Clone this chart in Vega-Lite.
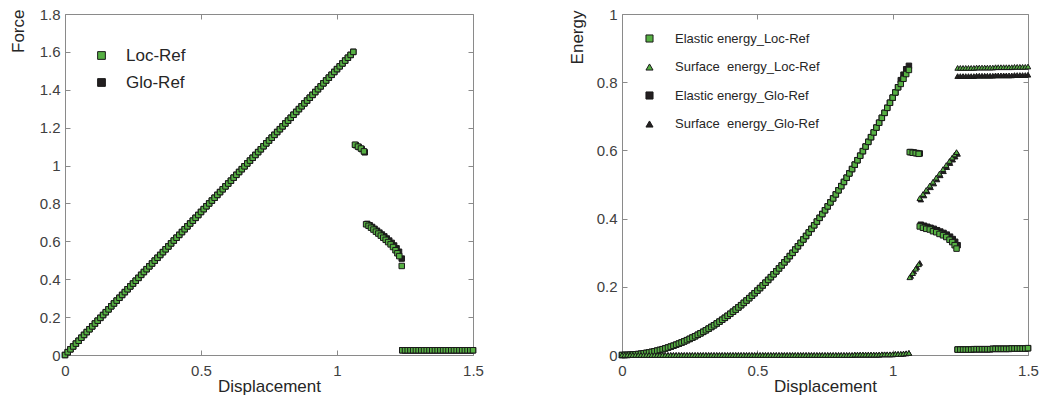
{
  "$schema": "https://vega.github.io/schema/vega-lite/v6.json",
  "background": "white",
  "padding": {"left": 9, "top": 7, "right": 2, "bottom": 2},
  "bounds": "flush",
  "spacing": 149,
  "config": {
    "font": "Liberation Sans",
    "view": {"stroke": null},
    "axis": {
      "grid": false,
      "domainColor": "#8a8a8a",
      "tickColor": "#8a8a8a",
      "tickSize": -5,
      "labelFlush": false,
      "labelColor": "#404040",
      "labelFontSize": 15,
      "labelPadding": 13,
      "titleFontSize": 17,
      "titleFontWeight": "normal",
      "titleColor": "#262626"
    }
  },
  "datasets": {
    "all": [
      {"d":0.00,"F":0.000,"Fg":0.000,"e":0.0000,"eg":0.0000,"s":0,"sg":0},
      {"d":0.01,"F":0.015,"Fg":0.015,"e":0.0001,"eg":0.0001,"s":0,"sg":0},
      {"d":0.02,"F":0.030,"Fg":0.030,"e":0.0003,"eg":0.0003,"s":0,"sg":0},
      {"d":0.03,"F":0.045,"Fg":0.045,"e":0.0007,"eg":0.0007,"s":0,"sg":0},
      {"d":0.04,"F":0.060,"Fg":0.060,"e":0.0012,"eg":0.0012,"s":0,"sg":0},
      {"d":0.05,"F":0.075,"Fg":0.075,"e":0.0019,"eg":0.0019,"s":0,"sg":0},
      {"d":0.06,"F":0.091,"Fg":0.091,"e":0.0027,"eg":0.0027,"s":0,"sg":0},
      {"d":0.07,"F":0.106,"Fg":0.106,"e":0.0037,"eg":0.0037,"s":0,"sg":0},
      {"d":0.08,"F":0.121,"Fg":0.121,"e":0.0048,"eg":0.0048,"s":0,"sg":0},
      {"d":0.09,"F":0.136,"Fg":0.136,"e":0.0061,"eg":0.0061,"s":0,"sg":0},
      {"d":0.10,"F":0.151,"Fg":0.151,"e":0.0075,"eg":0.0075,"s":0,"sg":0},
      {"d":0.11,"F":0.166,"Fg":0.166,"e":0.0091,"eg":0.0091,"s":0,"sg":0},
      {"d":0.12,"F":0.181,"Fg":0.181,"e":0.0109,"eg":0.0109,"s":0,"sg":0},
      {"d":0.13,"F":0.196,"Fg":0.196,"e":0.0128,"eg":0.0128,"s":0,"sg":0},
      {"d":0.14,"F":0.211,"Fg":0.211,"e":0.0148,"eg":0.0148,"s":0,"sg":0},
      {"d":0.15,"F":0.226,"Fg":0.226,"e":0.0170,"eg":0.0170,"s":0,"sg":0},
      {"d":0.16,"F":0.241,"Fg":0.241,"e":0.0193,"eg":0.0193,"s":0,"sg":0},
      {"d":0.17,"F":0.257,"Fg":0.257,"e":0.0218,"eg":0.0218,"s":0,"sg":0},
      {"d":0.18,"F":0.272,"Fg":0.272,"e":0.0245,"eg":0.0245,"s":0,"sg":0},
      {"d":0.19,"F":0.287,"Fg":0.287,"e":0.0272,"eg":0.0272,"s":0,"sg":0},
      {"d":0.20,"F":0.302,"Fg":0.302,"e":0.0302,"eg":0.0302,"s":0,"sg":0},
      {"d":0.21,"F":0.317,"Fg":0.317,"e":0.0333,"eg":0.0333,"s":0,"sg":0},
      {"d":0.22,"F":0.332,"Fg":0.332,"e":0.0365,"eg":0.0365,"s":0,"sg":0},
      {"d":0.23,"F":0.347,"Fg":0.347,"e":0.0399,"eg":0.0399,"s":0,"sg":0},
      {"d":0.24,"F":0.362,"Fg":0.362,"e":0.0435,"eg":0.0435,"s":0,"sg":0},
      {"d":0.25,"F":0.377,"Fg":0.377,"e":0.0472,"eg":0.0472,"s":0,"sg":0},
      {"d":0.26,"F":0.392,"Fg":0.392,"e":0.0510,"eg":0.0510,"s":0,"sg":0},
      {"d":0.27,"F":0.407,"Fg":0.407,"e":0.0550,"eg":0.0550,"s":0,"sg":0},
      {"d":0.28,"F":0.423,"Fg":0.423,"e":0.0592,"eg":0.0592,"s":0,"sg":0},
      {"d":0.29,"F":0.438,"Fg":0.438,"e":0.0635,"eg":0.0635,"s":0,"sg":0},
      {"d":0.30,"F":0.453,"Fg":0.453,"e":0.0679,"eg":0.0679,"s":0,"sg":0},
      {"d":0.31,"F":0.468,"Fg":0.468,"e":0.0725,"eg":0.0725,"s":0,"sg":0},
      {"d":0.32,"F":0.483,"Fg":0.483,"e":0.0773,"eg":0.0773,"s":0,"sg":0},
      {"d":0.33,"F":0.498,"Fg":0.498,"e":0.0822,"eg":0.0822,"s":0,"sg":0},
      {"d":0.34,"F":0.513,"Fg":0.513,"e":0.0872,"eg":0.0872,"s":0,"sg":0},
      {"d":0.35,"F":0.528,"Fg":0.528,"e":0.0924,"eg":0.0924,"s":0,"sg":0},
      {"d":0.36,"F":0.543,"Fg":0.543,"e":0.0978,"eg":0.0978,"s":0,"sg":0},
      {"d":0.37,"F":0.558,"Fg":0.558,"e":0.1033,"eg":0.1033,"s":0,"sg":0},
      {"d":0.38,"F":0.573,"Fg":0.573,"e":0.1090,"eg":0.1090,"s":0,"sg":0},
      {"d":0.39,"F":0.589,"Fg":0.589,"e":0.1148,"eg":0.1148,"s":0,"sg":0},
      {"d":0.40,"F":0.604,"Fg":0.604,"e":0.1208,"eg":0.1208,"s":0,"sg":0},
      {"d":0.41,"F":0.619,"Fg":0.619,"e":0.1269,"eg":0.1269,"s":0,"sg":0},
      {"d":0.42,"F":0.634,"Fg":0.634,"e":0.1331,"eg":0.1331,"s":0,"sg":0},
      {"d":0.43,"F":0.649,"Fg":0.649,"e":0.1395,"eg":0.1395,"s":0,"sg":0},
      {"d":0.44,"F":0.664,"Fg":0.664,"e":0.1461,"eg":0.1461,"s":0,"sg":0},
      {"d":0.45,"F":0.679,"Fg":0.679,"e":0.1528,"eg":0.1528,"s":0,"sg":0},
      {"d":0.46,"F":0.694,"Fg":0.694,"e":0.1597,"eg":0.1597,"s":0,"sg":0},
      {"d":0.47,"F":0.709,"Fg":0.709,"e":0.1667,"eg":0.1667,"s":0,"sg":0},
      {"d":0.48,"F":0.724,"Fg":0.724,"e":0.1739,"eg":0.1739,"s":0,"sg":0},
      {"d":0.49,"F":0.739,"Fg":0.739,"e":0.1812,"eg":0.1812,"s":0,"sg":0},
      {"d":0.50,"F":0.755,"Fg":0.755,"e":0.1887,"eg":0.1887,"s":0,"sg":0},
      {"d":0.51,"F":0.770,"Fg":0.770,"e":0.1963,"eg":0.1963,"s":0,"sg":0},
      {"d":0.52,"F":0.785,"Fg":0.785,"e":0.2041,"eg":0.2041,"s":0,"sg":0},
      {"d":0.53,"F":0.800,"Fg":0.800,"e":0.2120,"eg":0.2120,"s":0,"sg":0},
      {"d":0.54,"F":0.815,"Fg":0.815,"e":0.2201,"eg":0.2201,"s":0,"sg":0},
      {"d":0.55,"F":0.830,"Fg":0.830,"e":0.2283,"eg":0.2283,"s":0,"sg":0},
      {"d":0.56,"F":0.845,"Fg":0.845,"e":0.2367,"eg":0.2367,"s":0,"sg":0},
      {"d":0.57,"F":0.860,"Fg":0.860,"e":0.2452,"eg":0.2452,"s":0,"sg":0},
      {"d":0.58,"F":0.875,"Fg":0.875,"e":0.2539,"eg":0.2539,"s":0,"sg":0},
      {"d":0.59,"F":0.890,"Fg":0.890,"e":0.2627,"eg":0.2627,"s":0,"sg":0},
      {"d":0.60,"F":0.905,"Fg":0.905,"e":0.2717,"eg":0.2717,"s":0,"sg":0},
      {"d":0.61,"F":0.920,"Fg":0.920,"e":0.2808,"eg":0.2808,"s":0,"sg":0},
      {"d":0.62,"F":0.936,"Fg":0.936,"e":0.2901,"eg":0.2901,"s":0,"sg":0},
      {"d":0.63,"F":0.951,"Fg":0.951,"e":0.2995,"eg":0.2995,"s":0,"sg":0},
      {"d":0.64,"F":0.966,"Fg":0.966,"e":0.3091,"eg":0.3091,"s":0,"sg":0},
      {"d":0.65,"F":0.981,"Fg":0.981,"e":0.3189,"eg":0.3189,"s":0,"sg":0},
      {"d":0.66,"F":0.996,"Fg":0.996,"e":0.3287,"eg":0.3287,"s":0,"sg":0},
      {"d":0.67,"F":1.011,"Fg":1.011,"e":0.3388,"eg":0.3388,"s":0,"sg":0},
      {"d":0.68,"F":1.026,"Fg":1.026,"e":0.3490,"eg":0.3490,"s":0,"sg":0},
      {"d":0.69,"F":1.041,"Fg":1.041,"e":0.3593,"eg":0.3593,"s":0,"sg":0},
      {"d":0.70,"F":1.056,"Fg":1.056,"e":0.3698,"eg":0.3698,"s":0,"sg":0},
      {"d":0.71,"F":1.071,"Fg":1.071,"e":0.3804,"eg":0.3804,"s":0,"sg":0},
      {"d":0.72,"F":1.086,"Fg":1.086,"e":0.3912,"eg":0.3912,"s":0,"sg":0},
      {"d":0.73,"F":1.102,"Fg":1.102,"e":0.4022,"eg":0.4022,"s":0,"sg":0},
      {"d":0.74,"F":1.117,"Fg":1.117,"e":0.4133,"eg":0.4133,"s":0,"sg":0},
      {"d":0.75,"F":1.132,"Fg":1.132,"e":0.4245,"eg":0.4245,"s":0,"sg":0},
      {"d":0.76,"F":1.147,"Fg":1.147,"e":0.4359,"eg":0.4359,"s":0,"sg":0},
      {"d":0.77,"F":1.162,"Fg":1.162,"e":0.4475,"eg":0.4475,"s":0,"sg":0},
      {"d":0.78,"F":1.177,"Fg":1.177,"e":0.4592,"eg":0.4592,"s":0,"sg":0},
      {"d":0.79,"F":1.192,"Fg":1.192,"e":0.4710,"eg":0.4710,"s":0,"sg":0},
      {"d":0.80,"F":1.207,"Fg":1.207,"e":0.4830,"eg":0.4830,"s":0,"sg":0},
      {"d":0.81,"F":1.222,"Fg":1.222,"e":0.4952,"eg":0.4952,"s":0,"sg":0},
      {"d":0.82,"F":1.237,"Fg":1.237,"e":0.5075,"eg":0.5075,"s":0,"sg":0},
      {"d":0.83,"F":1.252,"Fg":1.252,"e":0.5199,"eg":0.5199,"s":0,"sg":0},
      {"d":0.84,"F":1.268,"Fg":1.268,"e":0.5325,"eg":0.5325,"s":0,"sg":0},
      {"d":0.85,"F":1.283,"Fg":1.283,"e":0.5453,"eg":0.5453,"s":0,"sg":0},
      {"d":0.86,"F":1.298,"Fg":1.298,"e":0.5582,"eg":0.5582,"s":0.001,"sg":0.001},
      {"d":0.87,"F":1.313,"Fg":1.313,"e":0.5712,"eg":0.5712,"s":0.001,"sg":0.001},
      {"d":0.88,"F":1.328,"Fg":1.328,"e":0.5844,"eg":0.5844,"s":0.001,"sg":0.001},
      {"d":0.89,"F":1.343,"Fg":1.343,"e":0.5978,"eg":0.5978,"s":0.001,"sg":0.001},
      {"d":0.90,"F":1.358,"Fg":1.358,"e":0.6113,"eg":0.6113,"s":0.001,"sg":0.001},
      {"d":0.91,"F":1.373,"Fg":1.373,"e":0.6250,"eg":0.6250,"s":0.001,"sg":0.001},
      {"d":0.92,"F":1.388,"Fg":1.388,"e":0.6388,"eg":0.6388,"s":0.001,"sg":0.001},
      {"d":0.93,"F":1.403,"Fg":1.403,"e":0.6527,"eg":0.6527,"s":0.001,"sg":0.001},
      {"d":0.94,"F":1.418,"Fg":1.418,"e":0.6669,"eg":0.6669,"s":0.001,"sg":0.001},
      {"d":0.95,"F":1.434,"Fg":1.434,"e":0.6811,"eg":0.6811,"s":0.001,"sg":0.001},
      {"d":0.96,"F":1.449,"Fg":1.449,"e":0.6955,"eg":0.6955,"s":0.002,"sg":0.002},
      {"d":0.97,"F":1.464,"Fg":1.464,"e":0.7101,"eg":0.7101,"s":0.002,"sg":0.002},
      {"d":0.98,"F":1.479,"Fg":1.479,"e":0.7248,"eg":0.7248,"s":0.002,"sg":0.002},
      {"d":0.99,"F":1.494,"Fg":1.494,"e":0.7397,"eg":0.7397,"s":0.002,"sg":0.002},
      {"d":1.00,"F":1.509,"Fg":1.509,"e":0.7547,"eg":0.7547,"s":0.002,"sg":0.002},
      {"d":1.01,"F":1.524,"Fg":1.524,"e":0.7699,"eg":0.7699,"s":0.003,"sg":0.003},
      {"d":1.02,"F":1.539,"Fg":1.539,"e":0.7852,"eg":0.7852,"s":0.003,"sg":0.003},
      {"d":1.03,"F":1.554,"Fg":1.554,"e":0.795,"eg":0.806,"s":0.003,"sg":0.003},
      {"d":1.04,"F":1.569,"Fg":1.569,"e":0.810,"eg":0.822,"s":0.004,"sg":0.004},
      {"d":1.05,"F":1.584,"Fg":1.584,"e":0.824,"eg":0.838,"s":0.005,"sg":0.005},
      {"d":1.06,"F":1.600,"Fg":1.600,"e":0.836,"eg":0.848,"s":0.006,"sg":0.006},
      {"d":1.066,"F":1.11},
      {"d":1.077,"F":1.10},
      {"d":1.088,"F":1.09},
      {"d":1.099,"F":1.075},
      {"d":1.069,"Fg":1.108},
      {"d":1.080,"Fg":1.098},
      {"d":1.091,"Fg":1.087},
      {"d":1.102,"Fg":1.07},
      {"d":1.107,"F":0.690},
      {"d":1.116,"F":0.682},
      {"d":1.125,"F":0.672},
      {"d":1.134,"F":0.662},
      {"d":1.143,"F":0.651},
      {"d":1.152,"F":0.641},
      {"d":1.161,"F":0.630},
      {"d":1.170,"F":0.619},
      {"d":1.179,"F":0.608},
      {"d":1.188,"F":0.596},
      {"d":1.197,"F":0.584},
      {"d":1.206,"F":0.570},
      {"d":1.215,"F":0.553},
      {"d":1.222,"F":0.537},
      {"d":1.229,"F":0.522},
      {"d":1.238,"F":0.470},
      {"d":1.111,"Fg":0.692},
      {"d":1.120,"Fg":0.685},
      {"d":1.129,"Fg":0.676},
      {"d":1.138,"Fg":0.666},
      {"d":1.147,"Fg":0.656},
      {"d":1.156,"Fg":0.646},
      {"d":1.165,"Fg":0.636},
      {"d":1.174,"Fg":0.626},
      {"d":1.183,"Fg":0.615},
      {"d":1.192,"Fg":0.604},
      {"d":1.201,"Fg":0.592},
      {"d":1.210,"Fg":0.578},
      {"d":1.219,"Fg":0.563},
      {"d":1.228,"Fg":0.545},
      {"d":1.238,"Fg":0.509},
      {"d":1.063,"e":0.595,"s":0.228},
      {"d":1.074,"e":0.593,"s":0.240},
      {"d":1.085,"e":0.592,"s":0.253},
      {"d":1.096,"e":0.590,"s":0.266},
      {"d":1.067,"eg":0.595,"sg":0.232},
      {"d":1.078,"eg":0.594,"sg":0.245},
      {"d":1.089,"eg":0.592,"sg":0.258},
      {"d":1.100,"eg":0.591,"sg":0.270},
      {"d":1.100,"e":0.377,"s":0.460},
      {"d":1.112,"e":0.373,"s":0.472},
      {"d":1.124,"e":0.370,"s":0.484},
      {"d":1.137,"e":0.368,"s":0.497},
      {"d":1.149,"e":0.363,"s":0.508},
      {"d":1.161,"e":0.360,"s":0.520},
      {"d":1.173,"e":0.355,"s":0.532},
      {"d":1.186,"e":0.351,"s":0.545},
      {"d":1.198,"e":0.346,"s":0.557},
      {"d":1.210,"e":0.338,"s":0.569},
      {"d":1.220,"e":0.331,"s":0.579},
      {"d":1.229,"e":0.322,"s":0.588},
      {"d":1.236,"e":0.312,"s":0.595},
      {"d":1.104,"eg":0.382,"sg":0.456},
      {"d":1.116,"eg":0.379,"sg":0.468},
      {"d":1.128,"eg":0.376,"sg":0.480},
      {"d":1.140,"eg":0.373,"sg":0.492},
      {"d":1.152,"eg":0.370,"sg":0.503},
      {"d":1.164,"eg":0.366,"sg":0.515},
      {"d":1.176,"eg":0.362,"sg":0.527},
      {"d":1.188,"eg":0.358,"sg":0.539},
      {"d":1.200,"eg":0.353,"sg":0.551},
      {"d":1.212,"eg":0.347,"sg":0.563},
      {"d":1.222,"eg":0.340,"sg":0.573},
      {"d":1.231,"eg":0.332,"sg":0.582},
      {"d":1.240,"eg":0.322,"sg":0.590},
      {"d":1.24,"F":0.025,"Fg":0.025,"e":0.016,"eg":0.016,"s":0.842,"sg":0.818},
      {"d":1.25,"F":0.025,"Fg":0.025,"e":0.016,"eg":0.016,"s":0.842,"sg":0.818},
      {"d":1.26,"F":0.025,"Fg":0.025,"e":0.016,"eg":0.016,"s":0.842,"sg":0.818},
      {"d":1.27,"F":0.025,"Fg":0.025,"e":0.016,"eg":0.016,"s":0.842,"sg":0.818},
      {"d":1.28,"F":0.025,"Fg":0.025,"e":0.016,"eg":0.016,"s":0.842,"sg":0.818},
      {"d":1.29,"F":0.025,"Fg":0.025,"e":0.016,"eg":0.016,"s":0.842,"sg":0.818},
      {"d":1.30,"F":0.025,"Fg":0.025,"e":0.017,"eg":0.017,"s":0.842,"sg":0.818},
      {"d":1.31,"F":0.025,"Fg":0.025,"e":0.017,"eg":0.017,"s":0.843,"sg":0.819},
      {"d":1.32,"F":0.025,"Fg":0.025,"e":0.017,"eg":0.017,"s":0.843,"sg":0.819},
      {"d":1.33,"F":0.025,"Fg":0.025,"e":0.017,"eg":0.017,"s":0.843,"sg":0.819},
      {"d":1.34,"F":0.025,"Fg":0.025,"e":0.017,"eg":0.017,"s":0.843,"sg":0.819},
      {"d":1.35,"F":0.025,"Fg":0.025,"e":0.017,"eg":0.017,"s":0.843,"sg":0.819},
      {"d":1.36,"F":0.025,"Fg":0.025,"e":0.017,"eg":0.017,"s":0.843,"sg":0.819},
      {"d":1.37,"F":0.025,"Fg":0.025,"e":0.018,"eg":0.018,"s":0.843,"sg":0.819},
      {"d":1.38,"F":0.025,"Fg":0.025,"e":0.018,"eg":0.018,"s":0.844,"sg":0.820},
      {"d":1.39,"F":0.025,"Fg":0.025,"e":0.018,"eg":0.018,"s":0.844,"sg":0.820},
      {"d":1.40,"F":0.025,"Fg":0.025,"e":0.018,"eg":0.018,"s":0.844,"sg":0.820},
      {"d":1.41,"F":0.025,"Fg":0.025,"e":0.018,"eg":0.018,"s":0.844,"sg":0.820},
      {"d":1.42,"F":0.025,"Fg":0.025,"e":0.018,"eg":0.018,"s":0.844,"sg":0.820},
      {"d":1.43,"F":0.025,"Fg":0.025,"e":0.018,"eg":0.018,"s":0.844,"sg":0.820},
      {"d":1.44,"F":0.025,"Fg":0.025,"e":0.019,"eg":0.019,"s":0.844,"sg":0.820},
      {"d":1.45,"F":0.025,"Fg":0.025,"e":0.019,"eg":0.019,"s":0.845,"sg":0.821},
      {"d":1.46,"F":0.025,"Fg":0.025,"e":0.019,"eg":0.019,"s":0.845,"sg":0.821},
      {"d":1.47,"F":0.025,"Fg":0.025,"e":0.019,"eg":0.019,"s":0.845,"sg":0.821},
      {"d":1.48,"F":0.025,"Fg":0.025,"e":0.019,"eg":0.019,"s":0.845,"sg":0.821},
      {"d":1.49,"F":0.025,"Fg":0.025,"e":0.019,"eg":0.019,"s":0.845,"sg":0.821},
      {"d":1.50,"F":0.025,"Fg":0.025,"e":0.020,"eg":0.020,"s":0.846,"sg":0.822}
    ]
  },
  "hconcat": [
    {
      "width": 408,
      "height": 341,
      "data": {"name": "all"},
      "layer": [
        {
          "transform": [{"filter": {"field": "Fg", "valid": true}}],
          "mark": {"type": "point", "filled": true, "opacity": 1, "size": 30, "stroke": "#1a1a1a", "strokeWidth": 1},
          "encoding": {
            "x": {"field": "d", "type": "quantitative", "scale": {"domain": [0, 1.5], "nice": false, "zero": false},
                  "axis": {"values": [0, 0.5, 1, 1.5], "format": "~g", "title": "Displacement", "labelPadding": 13, "titlePadding": 0}},
            "y": {"field": "Fg", "type": "quantitative", "scale": {"domain": [0, 1.8], "nice": false},
                  "axis": {"values": [0, 0.2, 0.4, 0.6, 0.8, 1, 1.2, 1.4, 1.6, 1.8], "format": "~g", "title": "Force", "labelPadding": 10,
                           "titleAngle": -90, "titleAlign": "right", "titleBaseline": "alphabetic", "titleX": -42, "titleY": -5}},
            "color": {"datum": "Glo-Ref", "scale": {"domain": ["Loc-Ref", "Glo-Ref"], "range": ["#56b043", "#231f20"]},
                      "legend": {"orient": "none", "legendX": 28, "legendY": 33, "title": null, "padding": 0, "rowPadding": 9, "labelFontSize": 17, "labelColor": "#262626", "symbolSize": 60, "labelOffset": 16, "symbolStrokeColor": "#1a1a1a", "symbolStrokeWidth": 1, "symbolOpacity": 1}},
            "shape": {"datum": "Glo-Ref", "scale": {"domain": ["Loc-Ref", "Glo-Ref"], "range": ["square", "square"]},
                      "legend": {"orient": "none", "legendX": 28, "legendY": 33, "title": null, "padding": 0, "rowPadding": 9, "labelFontSize": 17, "labelColor": "#262626", "symbolSize": 60, "labelOffset": 16, "symbolStrokeColor": "#1a1a1a", "symbolStrokeWidth": 1, "symbolOpacity": 1}}
          }
        },
        {
          "transform": [{"filter": {"field": "F", "valid": true}}],
          "mark": {"type": "point", "filled": true, "opacity": 1, "size": 30, "stroke": "#1a1a1a", "strokeWidth": 1},
          "encoding": {
            "x": {"field": "d", "type": "quantitative", "axis": {"orient": "top", "values": [0, 0.5, 1, 1.5], "labels": false, "title": null}},
            "y": {"field": "F", "type": "quantitative", "axis": {"orient": "right", "values": [0, 0.2, 0.4, 0.6, 0.8, 1, 1.2, 1.4, 1.6, 1.8], "labels": false, "title": null}},
            "color": {"datum": "Loc-Ref"},
            "shape": {"datum": "Loc-Ref"}
          }
        }
      ],
      "resolve": {"axis": {"x": "independent", "y": "independent"}}
    },
    {
      "width": 406,
      "height": 341,
      "data": {"name": "all"},
      "layer": [
        {
          "transform": [{"filter": {"field": "eg", "valid": true}}],
          "mark": {"type": "point", "filled": true, "opacity": 1, "size": 30, "stroke": "#1a1a1a", "strokeWidth": 1},
          "encoding": {
            "x": {"field": "d", "type": "quantitative", "scale": {"domain": [0, 1.5], "nice": false, "zero": false},
                  "axis": {"values": [0, 0.5, 1, 1.5], "format": "~g", "title": "Displacement", "labelPadding": 13, "titlePadding": 0}},
            "y": {"field": "eg", "type": "quantitative", "scale": {"domain": [0, 1], "nice": false},
                  "axis": {"values": [0, 0.2, 0.4, 0.6, 0.8, 1], "format": "~g", "title": "Energy", "labelPadding": 10,
                           "titleAngle": -90, "titleAlign": "right", "titleBaseline": "alphabetic", "titleX": -40, "titleY": -4}},
            "color": {"datum": "Elastic energy_Glo-Ref",
                      "scale": {"domain": ["Elastic energy_Loc-Ref", "Surface\u00a0 energy_Loc-Ref", "Elastic energy_Glo-Ref", "Surface\u00a0 energy_Glo-Ref"], "range": ["#56b043", "#56b043", "#231f20", "#231f20"]},
                      "legend": {"orient": "none", "legendX": 21, "legendY": 18, "title": null, "padding": 0, "rowPadding": 14.5, "labelFontSize": 13, "labelColor": "#262626", "symbolSize": 50, "labelOffset": 19, "symbolStrokeColor": "#1a1a1a", "symbolStrokeWidth": 1, "symbolOpacity": 1}},
            "shape": {"datum": "Elastic energy_Glo-Ref",
                      "scale": {"domain": ["Elastic energy_Loc-Ref", "Surface\u00a0 energy_Loc-Ref", "Elastic energy_Glo-Ref", "Surface\u00a0 energy_Glo-Ref"], "range": ["square", "triangle-up", "square", "triangle-up"]},
                      "legend": {"orient": "none", "legendX": 21, "legendY": 18, "title": null, "padding": 0, "rowPadding": 14.5, "labelFontSize": 13, "labelColor": "#262626", "symbolSize": 50, "labelOffset": 19, "symbolStrokeColor": "#1a1a1a", "symbolStrokeWidth": 1, "symbolOpacity": 1}}
          }
        },
        {
          "transform": [{"filter": {"field": "sg", "valid": true}}],
          "mark": {"type": "point", "filled": true, "opacity": 1, "size": 30, "stroke": "#1a1a1a", "strokeWidth": 1},
          "encoding": {
            "x": {"field": "d", "type": "quantitative", "axis": null},
            "y": {"field": "sg", "type": "quantitative", "axis": null},
            "color": {"datum": "Surface\u00a0 energy_Glo-Ref"},
            "shape": {"datum": "Surface\u00a0 energy_Glo-Ref"}
          }
        },
        {
          "transform": [{"filter": {"field": "e", "valid": true}}],
          "mark": {"type": "point", "filled": true, "opacity": 1, "size": 30, "stroke": "#1a1a1a", "strokeWidth": 1},
          "encoding": {
            "x": {"field": "d", "type": "quantitative", "axis": null},
            "y": {"field": "e", "type": "quantitative", "axis": null},
            "color": {"datum": "Elastic energy_Loc-Ref"},
            "shape": {"datum": "Elastic energy_Loc-Ref"}
          }
        },
        {
          "transform": [{"filter": {"field": "s", "valid": true}}],
          "mark": {"type": "point", "filled": true, "opacity": 1, "size": 30, "stroke": "#1a1a1a", "strokeWidth": 1},
          "encoding": {
            "x": {"field": "d", "type": "quantitative", "axis": {"orient": "top", "values": [0, 0.5, 1, 1.5], "labels": false, "title": null}},
            "y": {"field": "s", "type": "quantitative", "axis": {"orient": "right", "values": [0, 0.2, 0.4, 0.6, 0.8, 1], "labels": false, "title": null}},
            "color": {"datum": "Surface\u00a0 energy_Loc-Ref"},
            "shape": {"datum": "Surface\u00a0 energy_Loc-Ref"}
          }
        }
      ],
      "resolve": {"axis": {"x": "independent", "y": "independent"}}
    }
  ],
  "resolve": {"scale": {"color": "independent", "shape": "independent"}, "legend": {"color": "independent", "shape": "independent"}}
}
